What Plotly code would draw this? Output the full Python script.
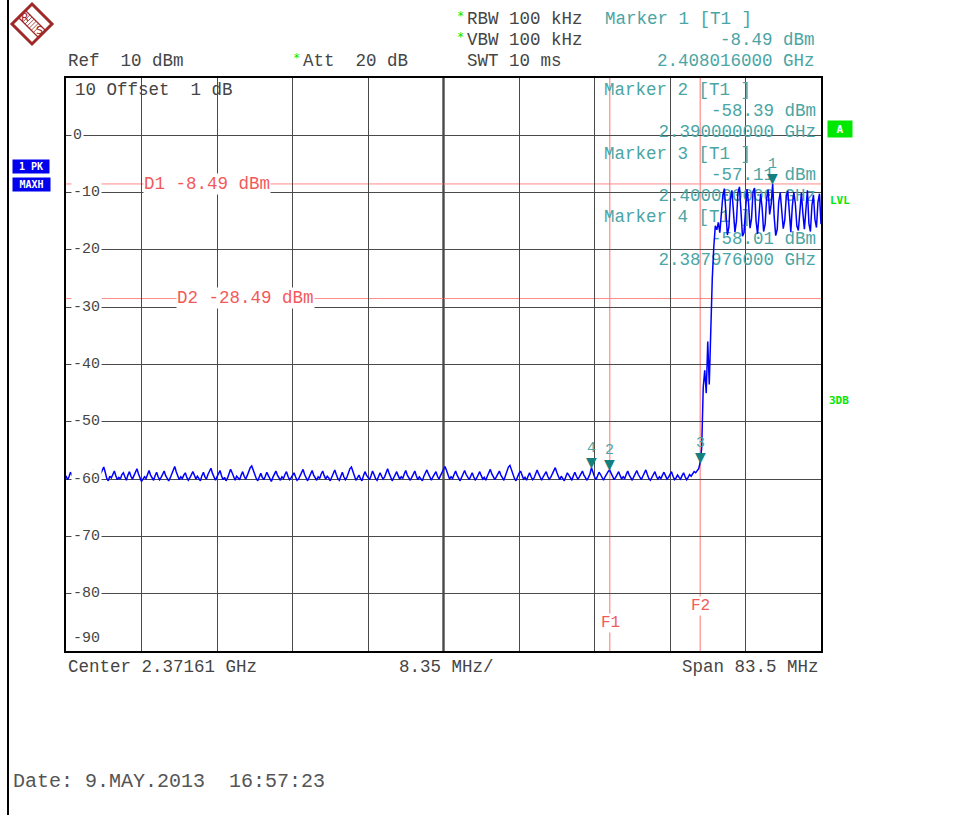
import numpy as np
import plotly.graph_objects as go

# ---------------- data ----------------
center_ghz = 2.37161
span_mhz = 83.5
n_points = 501
f_start = center_ghz - span_mhz / 2000.0
f_stop = center_ghz + span_mhz / 2000.0
freq_ghz = np.linspace(f_start, f_stop, n_points)   # sweep points of the analyzer

noise_floor_dbm = [
    -59.4, -60.1, -59.6, -58.8, -59.3, -60.0, -60.4, -59.2, -58.5, -58.9, -59.8, -60.2, -59.5, -59.9, -58.7, -59.4, -60.3, -59.1, -58.4, -59.0,
    -59.7, -60.2, -59.6, -59.0, -58.3, -57.9, -58.8, -59.9, -60.3, -59.5, -59.8, -59.1, -58.6, -59.4, -60.1, -59.7, -60.0, -59.2, -58.9, -59.6,
    -60.2, -59.3, -58.7, -59.5, -60.0, -59.4, -58.9, -58.2, -59.1, -59.8, -60.4, -60.0, -59.6, -59.9, -59.0, -58.5, -59.3, -59.9, -60.2, -59.4,
    -58.8, -59.6, -60.1, -59.7, -59.2, -58.6, -59.4, -59.9, -60.3, -59.8, -59.0, -58.4, -57.8, -58.7, -59.5, -60.1, -59.6, -59.9, -59.3, -58.9,
    -59.7, -60.2, -59.8, -59.1, -58.7, -59.3, -60.0, -59.5, -59.9, -60.3, -59.4, -58.8, -59.6, -60.0, -59.2, -58.6, -58.1, -59.0, -59.8, -60.2,
    -59.6, -59.0, -58.5, -59.4, -60.1, -59.7, -60.3, -59.8, -59.1, -58.3, -58.9, -59.7, -60.2, -59.5, -59.9, -60.1, -59.3, -58.7, -59.5, -60.0,
    -59.4, -58.6, -58.0, -57.7, -58.4, -59.3, -59.9, -60.3, -59.6, -59.0, -59.7, -60.1, -59.5, -58.8, -59.4, -60.0, -60.4, -59.7, -59.1, -58.6,
    -59.3, -59.9, -60.2, -59.6, -59.9, -59.2, -58.7, -59.5, -60.1, -59.8, -59.3, -58.9, -59.6, -60.2, -60.0, -59.4, -58.8, -58.3, -59.2, -59.9,
    -60.3, -59.7, -59.0, -58.5, -59.3, -59.8, -60.2, -59.6, -59.9, -59.1, -58.6, -59.4, -60.0, -59.5, -59.8, -60.3, -59.7, -58.9, -58.4, -59.2,
    -59.9, -60.2, -59.5, -58.8, -59.6, -60.1, -59.7, -59.0, -58.2, -57.9, -58.7, -59.6, -60.2, -59.8, -59.3, -59.9, -60.3, -59.4, -58.7, -59.3,
    -59.8, -60.1, -59.4, -58.6, -59.2, -59.9, -60.2, -59.5, -58.9, -59.5, -60.0, -59.6, -58.8, -58.2, -59.0, -59.7, -60.3, -59.8, -59.2, -58.7,
    -59.4, -60.0, -59.6, -59.9, -59.1, -58.5, -59.3, -59.8, -60.2, -59.7, -59.0, -58.6, -59.4, -60.1, -59.6, -59.9, -60.3, -59.5, -58.9, -58.4,
    -59.1, -59.8, -60.2, -59.6, -59.0, -58.7, -59.5, -60.0, -59.4, -58.8, -58.1, -57.8, -58.5, -59.4, -60.0, -59.6, -59.9, -59.2, -58.6, -59.3,
    -59.9, -60.3, -59.7, -59.1, -58.5, -59.2, -59.8, -60.1, -59.5, -58.9, -59.6, -60.2, -59.8, -59.2, -58.7, -59.4, -60.0, -59.7, -60.2, -59.5,
    -58.9, -58.3, -59.1, -59.7, -60.1, -59.6, -59.0, -58.6, -59.3, -59.9, -60.2, -59.4, -58.5, -57.9, -57.6, -58.4, -59.3, -59.9, -60.3, -59.6,
    -59.0, -58.6, -59.4, -60.0, -59.7, -60.2, -59.5, -58.9, -59.6, -60.1, -59.8, -59.2, -58.4, -59.1, -59.8, -60.2, -59.6, -59.0, -58.7, -59.5,
    -60.0, -59.7, -59.1, -58.5, -58.0, -58.8, -59.6, -60.1, -59.5, -59.9, -60.3, -59.6, -58.9, -59.3, -59.9, -60.2, -59.4, -58.8, -59.5, -60.0,
    -59.6, -59.0, -58.6, -59.3, -59.9, -60.2, -59.7, -59.1, -58.01, -58.9, -59.6, -60.1, -59.5, -58.8, -59.2, -59.8, -60.2, -59.6, -59.0, -58.7,
    -58.39, -58.9, -59.6, -60.1, -59.7, -59.3, -58.7, -59.4, -60.0, -59.6, -59.9, -59.2, -58.6, -59.3, -59.9, -60.2, -59.6, -59.0, -58.5, -59.2,
    -59.8, -60.1, -59.5, -58.9, -58.4, -59.2, -59.9, -60.2, -59.7, -59.1, -58.7, -59.5, -60.0, -59.6, -59.9, -59.3, -58.8, -59.4, -60.0, -59.7,
    -59.2, -58.7, -59.5, -60.1, -59.8, -59.3, -59.7, -60.0, -59.4, -58.9, -59.6, -60.1, -59.7, -59.2, -59.5, -59.0, -58.7, -58.9, -58.5, -58.2,
]

band_edge_dbm = [
    -57.11, -54.5, -44.0, -41.0, -45.0, -36.0, -43.5, -33.0, -25.0, -19.5, -15.8, -16.5, -15.2, -17.0,
    -13.0, -10.5, -9.3, -14.5, -17.4, -16.0, -11.2, -9.6, -12.8, -16.9, -15.0, -10.0, -9.0, -13.5,
    -17.6, -17.0, -12.0, -9.4, -11.8, -16.2, -14.5, -9.8, -9.2, -15.0, -17.2, -13.4, -10.2, -12.6,
    -16.8, -15.5, -11.0, -9.5, -13.8, -12.0, -8.49, -14.2, -17.5, -16.4, -11.6, -10.0, -13.2, -16.3,
    -14.8, -10.6, -9.7, -14.4, -16.9, -12.4, -9.9, -11.9, -15.8, -16.6, -12.8, -10.1, -13.6, -16.4,
    -13.0, -9.6, -15.4, -16.8, -12.2, -10.4, -14.7, -16.1, -11.6, -10.2, -15.5,
]
trace_dbm = noise_floor_dbm + band_edge_dbm
assert len(trace_dbm) == n_points

y_top = 10
y_bottom = -90
y_tick_values = [0, -10, -20, -30, -40, -50, -60, -70, -80]
y_tick_labels = ["0", "-10", "-20", "-30", "-40", "-50", "-60", "-70", "-80"]

display_line_names = ["D1", "D2"]
display_line_dbm = [-8.49, -28.49]
freq_line_names = ["F1", "F2"]
freq_line_ghz = [2.390, 2.400]

marker_ids = ["1", "2", "3", "4"]
marker_freq_ghz = [2.408016, 2.390000, 2.400000, 2.387976]
marker_level_dbm = [-8.49, -58.39, -57.11, -58.01]

# ---------------- geometry helpers (pixel -> paper / data) ----------------
W_FIG, H_FIG = 967, 815
L, R, T, B = 66, 821, 78, 651
PW, PH = R - L, B - T


def px(x):
    return (x - L) / PW


def py(y):
    return (B - y) / PH


def dx(x):
    return f_start + px(x) * (f_stop - f_start)


def dy(y):
    return y_bottom + py(y) * (y_top - y_bottom)


MONO = "Liberation Mono, Courier New, DejaVu Sans Mono, monospace"
GREY = "#454545"
TEAL = "#4aa5a5"
TEAL_DARK = "#157f7f"
RED = "#f25a5a"
RED_LINE = "#ff8a8a"
GREEN = "#00e800"


def sp(s):
    return s.replace("  ", " \u00a0")


annotations = []


def ann(x, y, text, color=GREY, size=17.5, xanchor="left", family=MONO, bg=None,
        bold=False, width=None, height=None, yanchor="middle"):
    d = dict(xref="paper", yref="paper", x=px(x), y=py(y), text=sp(text), showarrow=False,
             xanchor=xanchor, yanchor=yanchor,
             font=dict(family=family, size=size, color=color,
                       weight="bold" if bold else "normal"),
             borderpad=0)
    if bg is not None:
        d["bgcolor"] = bg
    if width is not None:
        d["width"] = width
        d["align"] = "center"
    if height is not None:
        d["height"] = height
        d["valign"] = "middle"
    annotations.append(d)


# ---------------- figure ----------------
fig = go.Figure()

# in-plot marker info text (drawn under the trace)
info_left = ["Marker 2 [T1 ]", "Marker 3 [T1 ]", "Marker 4 [T1 ]"]
info_left_y = [91, 155, 218]
info_right = ["-58.39 dBm", "2.390000000 GHz", "-57.11 dBm", "2.400000000 GHz",
              "-58.01 dBm", "2.387976000 GHz"]
info_right_y = [112, 133, 176, 197, 240, 261]
fig.add_trace(go.Scatter(
    x=[dx(604)] * len(info_left), y=[dy(v) for v in info_left_y],
    text=info_left, mode="text", textposition="middle right",
    textfont=dict(family=MONO, size=17.5, color=TEAL), hoverinfo="skip", cliponaxis=False))
fig.add_trace(go.Scatter(
    x=[dx(816)] * len(info_right), y=[dy(v) for v in info_right_y],
    text=info_right, mode="text", textposition="middle left",
    textfont=dict(family=MONO, size=17.5, color=TEAL), hoverinfo="skip", cliponaxis=False))

# spectrum trace
fig.add_trace(go.Scatter(
    x=freq_ghz, y=trace_dbm, mode="lines",
    line=dict(color="#0000ff", width=1.5), hoverinfo="skip"))

shapes = []
# center graticule line (thicker)
shapes.append(dict(type="line", xref="x", yref="paper", x0=center_ghz, x1=center_ghz, y0=0, y1=1,
                   line=dict(color="#000000", width=2), layer="between"))
# display lines
for name, v in zip(display_line_names, display_line_dbm):
    shapes.append(dict(type="line", xref="paper", yref="y", x0=0, x1=1, y0=v, y1=v,
                       line=dict(color=RED_LINE, width=1), layer="between"))
# frequency lines
for name, v in zip(freq_line_names, freq_line_ghz):
    shapes.append(dict(type="line", xref="x", yref="paper", x0=v, x1=v, y0=0, y1=1,
                       line=dict(color=RED_LINE, width=1.2), layer="between"))

# left page border
shapes.append(dict(type="line", xref="paper", yref="paper", x0=px(8), x1=px(8), y0=py(815), y1=py(0),
                   line=dict(color="#000000", width=2)))

# R&S logo (diamond)
cx, cy, hs = 32, 24, 20
logo = "M {} {} L {} {} L {} {} L {} {} Z".format(
    px(cx), py(cy - hs), px(cx + hs), py(cy), px(cx), py(cy + hs), px(cx - hs), py(cy))
shapes.append(dict(type="path", xref="paper", yref="paper", path=logo,
                   line=dict(color="#a02828", width=3)))
for off in (-3.5, 3.5):
    shapes.append(dict(type="line", xref="paper", yref="paper",
                       x0=px(22 + off), y0=py(14 - off), x1=px(42 + off), y1=py(34 - off),
                       line=dict(color="#a02828", width=1.2)))
for k in range(-8, 9, 3):
    mx, my = cx + k * 0.7, cy + k * 0.7
    shapes.append(dict(type="line", xref="paper", yref="paper",
                       x0=px(mx - 3.5), y0=py(my + 3.5), x1=px(mx + 3.5), y1=py(my - 3.5),
                       line=dict(color="#a02828", width=0.8)))
ann(25, 18, "R", color="#a02828", size=11, xanchor="center", family="DejaVu Sans")
ann(39, 31, "S", color="#a02828", size=11, xanchor="center", family="DejaVu Sans")

# header text
ann(67, 61, "Ref  10 dBm")
ann(292, 58, "*", color=GREEN, size=12, family="DejaVu Sans Mono")
ann(302, 61, "Att  20 dB")
ann(456, 16, "*", color=GREEN, size=12, family="DejaVu Sans Mono")
ann(466, 19, "RBW 100 kHz")
ann(456, 37, "*", color=GREEN, size=12, family="DejaVu Sans Mono")
ann(466, 40, "VBW 100 kHz")
ann(466, 61, "SWT 10 ms")
ann(604, 19, "Marker 1 [T1 ]", color=TEAL)
ann(816, 40, "-8.49 dBm", color=TEAL, xanchor="right")
ann(816, 61, "2.408016000 GHz", color=TEAL, xanchor="right")

ann(74, 90, "10 Offset  1 dB")

# y tick labels inside the graticule
for v, lab in zip(y_tick_values, y_tick_labels):
    annotations.append(dict(xref="paper", yref="y", x=px(71), y=v, text=lab, showarrow=False,
                            xanchor="left", yanchor="middle", bgcolor="#ffffff", borderpad=1,
                            font=dict(family=MONO, size=15, color=GREY)))
ann(72, 638, "-90", size=15)

# display line labels
ann(143, 184, "D1 -8.49 dBm", color=RED, bg="#ffffff")
ann(176, 298, "D2 -28.49 dBm", color=RED, bg="#ffffff")
ann(610, 623, "F1", color=RED, xanchor="center", bg="#ffffff", size=16)
ann(700, 606, "F2", color=RED, xanchor="center", bg="#ffffff", size=16)

# markers
for mid, f, lv in zip(marker_ids, marker_freq_ghz, marker_level_dbm):
    annotations.append(dict(xref="x", yref="y", x=f, y=lv, text="\u25bc", showarrow=False,
                            xanchor="center", yanchor="bottom", yshift=-4,
                            font=dict(family="DejaVu Sans", size=14, color=TEAL_DARK)))
    annotations.append(dict(xref="x", yref="y", x=f, y=lv, text=mid, showarrow=False,
                            xanchor="center", yanchor="bottom", yshift=9,
                            font=dict(family=MONO, size=15, color=TEAL)))

# bottom text
ann(67, 667, "Center 2.37161 GHz")
ann(398, 667, "8.35 MHz/")
ann(820, 667, "Span 83.5 MHz", xanchor="right")
ann(12, 781, "Date: 9.MAY.2013  16:57:23", color="#555555", size=20)

# side indicators
ann(840, 129, "A", color="#ffffff", size=11, xanchor="center", bg=GREEN, bold=True,
    width=24, height=16, family="DejaVu Sans Mono")
ann(840, 201, "LVL", color=GREEN, size=11, xanchor="center", bold=True, family="DejaVu Sans Mono")
ann(839, 400, "3DB", color=GREEN, size=11, xanchor="center", bold=True, family="DejaVu Sans Mono")
ann(31, 166, "1 PK", color="#ffffff", size=10, xanchor="center", bg="#0000ee", bold=True,
    width=36, height=13, family="DejaVu Sans Mono")
ann(31, 184, "MAXH", color="#ffffff", size=10, xanchor="center", bg="#0000ee", bold=True,
    width=37, height=13, family="DejaVu Sans Mono")

grid_x = [f_start + k * (f_stop - f_start) / 10 for k in range(11)]

fig.update_layout(
    width=W_FIG, height=H_FIG,
    margin=dict(l=L, r=W_FIG - R, t=T, b=H_FIG - B, pad=0),
    paper_bgcolor="#ffffff", plot_bgcolor="#ffffff",
    showlegend=False,
    shapes=shapes, annotations=annotations,
    xaxis=dict(range=[f_start, f_stop], tickvals=grid_x, showticklabels=False, ticks="",
               showgrid=True, gridcolor="#4a4a4a", gridwidth=1, zeroline=False,
               showline=True, mirror=True, linecolor="#000000", linewidth=2, fixedrange=True),
    yaxis=dict(range=[y_bottom, y_top], tickvals=list(range(y_bottom, y_top + 1, 10)),
               showticklabels=False, ticks="",
               showgrid=True, gridcolor="#4a4a4a", gridwidth=1, zeroline=False,
               showline=True, mirror=True, linecolor="#000000", linewidth=2, fixedrange=True),
)

fig.write_html("out.html", config={"displayModeBar": False},
               post_script="document.body.style.margin='0';document.body.style.overflow='hidden';")
